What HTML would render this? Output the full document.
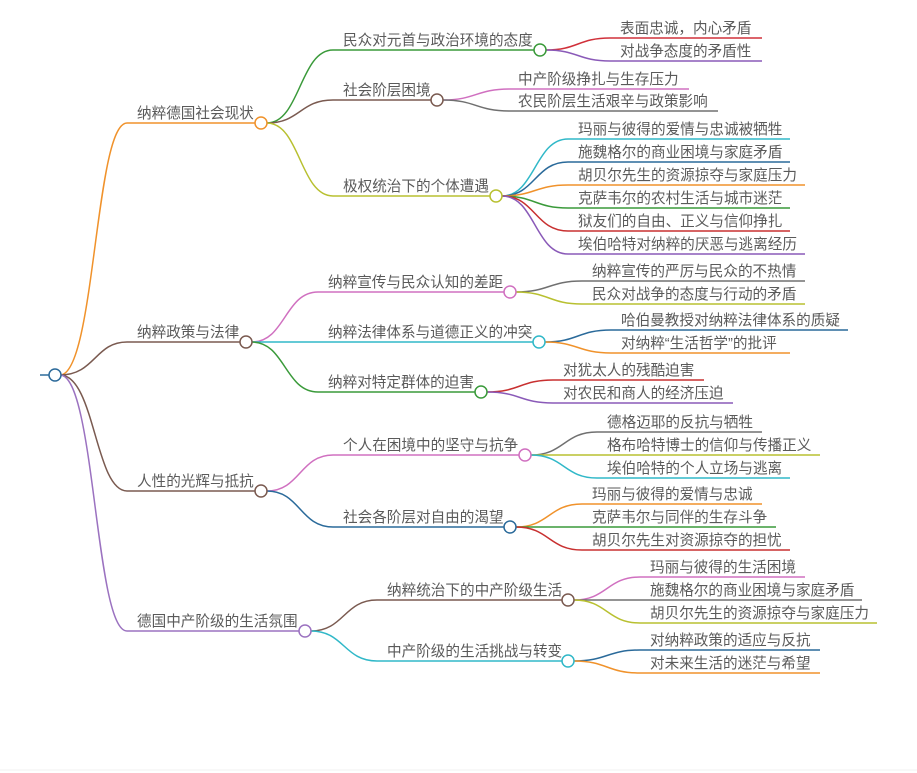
<!DOCTYPE html>
<html><head><meta charset="utf-8"><style>
html,body{margin:0;padding:0;background:#fff;}
svg{display:block;}
text{font-family:"Liberation Sans","Noto Sans CJK SC",sans-serif;font-size:14.6px;fill:#5a5a5a;}
path{fill:none;stroke-width:1.5;}
circle{fill:#fff;stroke-width:1.5;}
</style></head><body>
<svg width="917" height="773" viewBox="0 0 917 773" xmlns="http://www.w3.org/2000/svg">
<path d="M40 375 H55" stroke="#2c6a9a" stroke-width="2"/>
<path d="M60 375 C95 375,95 123,127 123 H261" stroke="#f0922b"/>
<path d="M60 375 C95 375,95 342,127 342 H246" stroke="#7a5a50"/>
<path d="M60 375 C95 375,95 491,127 491 H261" stroke="#7a5a50"/>
<path d="M60 375 C95 375,95 631,127 631 H305" stroke="#9b72c0"/>
<circle cx="55" cy="375" r="6" stroke="#2c6a9a"/>
<text x="137" y="118">纳粹德国社会现状</text>
<text x="137" y="337">纳粹政策与法律</text>
<text x="137" y="486">人性的光辉与抵抗</text>
<text x="137" y="626">德国中产阶级的生活氛围</text>

<path d="M267 123 C300 123,300 50,333 50 H540" stroke="#3a9a3a"/>
<path d="M267 123 C300 123,300 100,333 100 H437" stroke="#7a5a50"/>
<path d="M267 123 C300 123,300 196,333 196 H496" stroke="#b8c030"/>
<circle cx="261" cy="123" r="6" stroke="#f0922b"/>
<text x="343" y="45">民众对元首与政治环境的态度</text>
<text x="343" y="95">社会阶层困境</text>
<text x="343" y="191">极权统治下的个体遭遇</text>

<path d="M546 50 C578 50,578 38,610 38 H762" stroke="#d0303a"/>
<path d="M546 50 C578 50,578 61,610 61 H762" stroke="#8a5ab8"/>
<circle cx="540" cy="50" r="6" stroke="#3a9a3a"/>
<text x="620" y="33">表面忠诚，内心矛盾</text>
<text x="620" y="56">对战争态度的矛盾性</text>

<path d="M443 100 C476 100,476 89,510 89 H689" stroke="#d070c0"/>
<path d="M443 100 C476 100,476 111,510 111 H718" stroke="#707070"/>
<circle cx="437" cy="100" r="6" stroke="#7a5a50"/>
<text x="518" y="84">中产阶级挣扎与生存压力</text>
<text x="518" y="106">农民阶层生活艰辛与政策影响</text>

<path d="M502 196 C535 196,535 139,568 139 H790" stroke="#30b8c8"/>
<path d="M502 196 C535 196,535 162,568 162 H790" stroke="#2a6a9a"/>
<path d="M502 196 C535 196,535 185,568 185 H805" stroke="#f0922b"/>
<path d="M502 196 C535 196,535 208,568 208 H790" stroke="#3a9a3a"/>
<path d="M502 196 C535 196,535 231,568 231 H790" stroke="#c83030"/>
<path d="M502 196 C535 196,535 254,568 254 H805" stroke="#8a5ab8"/>
<circle cx="496" cy="196" r="6" stroke="#b8c030"/>
<text x="578" y="134">玛丽与彼得的爱情与忠诚被牺牲</text>
<text x="578" y="157">施魏格尔的商业困境与家庭矛盾</text>
<text x="578" y="180">胡贝尔先生的资源掠夺与家庭压力</text>
<text x="578" y="203">克萨韦尔的农村生活与城市迷茫</text>
<text x="578" y="226">狱友们的自由、正义与信仰挣扎</text>
<text x="578" y="249">埃伯哈特对纳粹的厌恶与逃离经历</text>

<path d="M252 342 C285 342,285 292,318 292 H510" stroke="#d070c0"/>
<path d="M252 342 H539" stroke="#30b8c8"/>
<path d="M252 342 C285 342,285 392,318 392 H481" stroke="#3a9a3a"/>
<circle cx="246" cy="342" r="6" stroke="#7a5a50"/>
<text x="328" y="287">纳粹宣传与民众认知的差距</text>
<text x="328" y="337">纳粹法律体系与道德正义的冲突</text>
<text x="328" y="387">纳粹对特定群体的迫害</text>

<path d="M516 292 C549 292,549 281,582 281 H805" stroke="#707070"/>
<path d="M516 292 C549 292,549 304,582 304 H805" stroke="#b8c030"/>
<circle cx="510" cy="292" r="6" stroke="#d070c0"/>
<text x="592" y="276">纳粹宣传的严厉与民众的不热情</text>
<text x="592" y="299">民众对战争的态度与行动的矛盾</text>

<path d="M545 342 C578 342,578 330,611 330 H848" stroke="#2a6a9a"/>
<path d="M545 342 C578 342,578 353,611 353 H790" stroke="#f0922b"/>
<circle cx="539" cy="342" r="6" stroke="#30b8c8"/>
<text x="621" y="325">哈伯曼教授对纳粹法律体系的质疑</text>
<text x="621" y="348">对纳粹“生活哲学”的批评</text>

<path d="M487 392 C520 392,520 380,553 380 H704" stroke="#c83030"/>
<path d="M487 392 C520 392,520 403,553 403 H733" stroke="#8a5ab8"/>
<circle cx="481" cy="392" r="6" stroke="#3a9a3a"/>
<text x="563" y="375">对犹太人的残酷迫害</text>
<text x="563" y="398">对农民和商人的经济压迫</text>

<path d="M267 491 C300 491,300 455,333 455 H525" stroke="#d070c0"/>
<path d="M267 491 C300 491,300 527,333 527 H510" stroke="#2a6a9a"/>
<circle cx="261" cy="491" r="6" stroke="#7a5a50"/>
<text x="343" y="450">个人在困境中的坚守与抗争</text>
<text x="343" y="522">社会各阶层对自由的渴望</text>

<path d="M531 455 C564 455,564 432,597 432 H762" stroke="#707070"/>
<path d="M531 455 H820" stroke="#b8c030"/>
<path d="M531 455 C564 455,564 478,597 478 H790" stroke="#30b8c8"/>
<circle cx="525" cy="455" r="6" stroke="#d070c0"/>
<text x="607" y="427">德格迈耶的反抗与牺牲</text>
<text x="607" y="450">格布哈特博士的信仰与传播正义</text>
<text x="607" y="473">埃伯哈特的个人立场与逃离</text>

<path d="M516 527 C549 527,549 504,582 504 H762" stroke="#f0922b"/>
<path d="M516 527 H776" stroke="#3a9a3a"/>
<path d="M516 527 C549 527,549 550,582 550 H790" stroke="#c83030"/>
<circle cx="510" cy="527" r="6" stroke="#2a6a9a"/>
<text x="592" y="499">玛丽与彼得的爱情与忠诚</text>
<text x="592" y="522">克萨韦尔与同伴的生存斗争</text>
<text x="592" y="545">胡贝尔先生对资源掠夺的担忧</text>

<path d="M311 631 C344 631,344 600,377 600 H568" stroke="#7a5a50"/>
<path d="M311 631 C344 631,344 661,377 661 H568" stroke="#30b8c8"/>
<circle cx="305" cy="631" r="6" stroke="#9b72c0"/>
<text x="387" y="595">纳粹统治下的中产阶级生活</text>
<text x="387" y="656">中产阶级的生活挑战与转变</text>

<path d="M574 600 C607 600,607 577,640 577 H805" stroke="#d070c0"/>
<path d="M574 600 H862" stroke="#707070"/>
<path d="M574 600 C607 600,607 623,640 623 H877" stroke="#b8c030"/>
<circle cx="568" cy="600" r="6" stroke="#7a5a50"/>
<text x="650" y="572">玛丽与彼得的生活困境</text>
<text x="650" y="595">施魏格尔的商业困境与家庭矛盾</text>
<text x="650" y="618">胡贝尔先生的资源掠夺与家庭压力</text>

<path d="M574 661 C607 661,607 650,640 650 H820" stroke="#2a6a9a"/>
<path d="M574 661 C607 661,607 673,640 673 H820" stroke="#f0922b"/>
<circle cx="568" cy="661" r="6" stroke="#30b8c8"/>
<text x="650" y="645">对纳粹政策的适应与反抗</text>
<text x="650" y="668">对未来生活的迷茫与希望</text>
<line x1="0" y1="770" x2="917" y2="770" stroke="#f2f2f2" stroke-width="1"/>
</svg>
</body></html>
